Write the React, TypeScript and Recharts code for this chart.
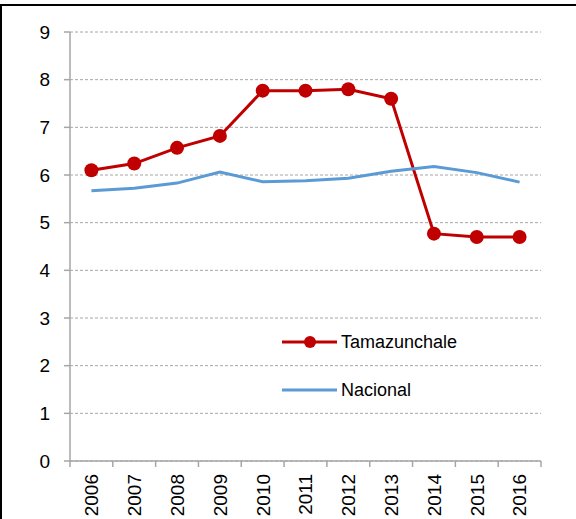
import { LineChart, Line, XAxis, YAxis, CartesianGrid } from "recharts";

const years = ["2006", "2007", "2008", "2009", "2010", "2011", "2012", "2013", "2014", "2015", "2016"];
const tamazunchale = [6.1, 6.24, 6.57, 6.82, 7.77, 7.77, 7.8, 7.6, 4.77, 4.7, 4.7];
const nacional = [5.67, 5.72, 5.83, 6.06, 5.86, 5.88, 5.93, 6.08, 6.18, 6.05, 5.85];
const yTicks = [0, 1, 2, 3, 4, 5, 6, 7, 8, 9];
const seriesNames = ["Tamazunchale", "Nacional"];

const data = years.map((y, i) => ({ year: y, tamazunchale: tamazunchale[i], nacional: nacional[i] }));

const FONT = "'Liberation Sans', Arial, sans-serif";
const AXIS = "#a6a6a6";
const RED = "#c00000";
const BLUE = "#5b9bd5";
const BAND = 471 / years.length;

function YearTick(props: any) {
  const { x, y, payload, index } = props;
  const last = index === years.length - 1;
  return (
    <g>
      <line x1={x - BAND / 2} x2={x - BAND / 2} y1={y - 8} y2={y - 2} stroke={AXIS} strokeWidth={1.5} />
      {last && <line x1={x + BAND / 2} x2={x + BAND / 2} y1={y - 8} y2={y - 2} stroke={AXIS} strokeWidth={1.5} />}
      <text
        x={x}
        y={y + 5}
        dy="0.36em"
        transform={`rotate(-90, ${x}, ${y + 5})`}
        textAnchor="end"
        fontSize={19}
        fontFamily={FONT}
        fill="#000"
      >
        {payload.value}
      </text>
    </g>
  );
}

function LegendRow({ name, color, marker, top }: { name: string; color: string; marker: boolean; top: number }) {
  return (
    <div style={{ position: "absolute", left: 282, top, display: "flex", alignItems: "center", height: 24, fontFamily: FONT, fontSize: 18 }}>
      <svg width={58} height={20}>
        <line x1={0} x2={55} y1={10} y2={10} stroke={color} strokeWidth={3} />
        {marker && <circle cx={28} cy={10} r={6} fill={color} />}
      </svg>
      <span style={{ marginLeft: 1 }}>{name}</span>
    </div>
  );
}

export default function App() {
  return (
    <div style={{ position: "fixed", left: 0, top: 0, width: 576, height: 519, background: "#fff" }}>
      <div
        style={{
          position: "absolute",
          left: 0,
          top: 4,
          width: 576,
          height: 515,
          borderTop: "2px solid #000",
          borderLeft: "2px solid #000",
          boxSizing: "border-box",
        }}
      />
      <div style={{ position: "absolute", left: 0, top: 0 }}>
        <LineChart width={576} height={519} data={data} margin={{ top: 32, right: 35, left: 0, bottom: 0 }}>
          <CartesianGrid vertical={false} stroke={AXIS} strokeDasharray="3 2" />
          <XAxis
            dataKey="year"
            scale="band"
            height={58}
            axisLine={{ stroke: AXIS, strokeWidth: 1.5 }}
            tickLine={false}
            tick={<YearTick />}
            interval={0}
          />
          <YAxis
            width={70}
            domain={[0, 9]}
            ticks={yTicks}
            interval={0}
            axisLine={{ stroke: AXIS, strokeWidth: 1.5 }}
            tickLine={{ stroke: AXIS, strokeWidth: 1.5 }}
            tickSize={6}
            tickMargin={14}
            tick={{ fontSize: 19, fontFamily: FONT, fill: "#000" }}
          />
          <Line
            name={seriesNames[0]}
            dataKey="tamazunchale"
            stroke={RED}
            strokeWidth={3}
            dot={{ r: 7, fill: RED, stroke: RED, strokeWidth: 0 }}
            isAnimationActive={false}
          />
          <Line
            name={seriesNames[1]}
            dataKey="nacional"
            stroke={BLUE}
            strokeWidth={3}
            dot={false}
            isAnimationActive={false}
          />
        </LineChart>
      </div>
      <LegendRow name={seriesNames[0]} color={RED} marker top={330} />
      <LegendRow name={seriesNames[1]} color={BLUE} marker={false} top={378} />
    </div>
  );
}
